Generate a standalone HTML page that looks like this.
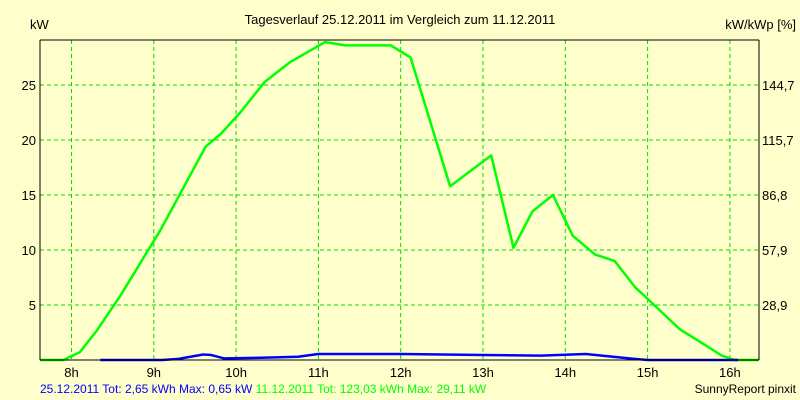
<!DOCTYPE html>
<html><head><meta charset="utf-8"><style>
html,body{margin:0;padding:0;background:#ffffcc;}
svg{display:block;font-family:"Liberation Sans",sans-serif;}
</style></head><body>
<svg id="chart" width="800" height="400" viewBox="0 0 800 400">
<rect x="0" y="0" width="800" height="400" fill="#ffffcc"/>
<text x="400" y="24" font-size="13" text-anchor="middle" fill="#000">Tagesverlauf 25.12.2011 im Vergleich zum 11.12.2011</text>
<text x="30" y="29" font-size="13" fill="#000">kW</text>
<text x="796" y="29" font-size="13" text-anchor="end" fill="#000">kW/kWp [%]</text>
<g id="grid"></g>
<g id="series"></g>
<line x1="40" y1="40" x2="40" y2="360" stroke="#000"/>
<line x1="40" y1="40" x2="759" y2="40" stroke="#000"/>
<line x1="759" y1="40" x2="759" y2="360" stroke="#000"/>
<line x1="40" y1="360" x2="759" y2="360" stroke="#000"/>
<text y="393" font-size="12"><tspan x="40" fill="#0000ff">25.12.2011 Tot: 2,65 kWh Max: 0,65 kW</tspan><tspan fill="#00ff00"> 11.12.2011 Tot: 123,03 kWh Max: 29,11 kW</tspan></text>
<text x="796" y="393" font-size="12" text-anchor="end" fill="#000">SunnyReport pinxit</text>
</svg>
<script>
const hourTicks=[8,9,10,11,12,13,14,15,16];
const yTicks=[5,10,15,20,25];
const yRightLabels=["28,9","57,9","86,8","115,7","144,7"];
const greenHours=[7.62,7.9,8.1,8.3,8.59,9.08,9.63,9.82,10.05,10.35,10.66,11.08,11.33,11.88,12.12,12.6,13.1,13.37,13.6,13.85,14.09,14.36,14.6,14.85,15.08,15.39,15.69,15.9,16.06,16.35];
const greenKW=[0,0,0.7,2.6,5.8,11.8,19.4,20.6,22.5,25.3,27.1,28.9,28.6,28.6,27.5,15.8,18.6,10.2,13.5,15,11.3,9.6,9,6.6,5,2.8,1.4,0.4,0,0];
const blueHours=[8.35,9.1,9.3,9.6,9.7,9.85,10.3,10.75,11.0,12.0,13.0,13.7,14.25,14.7,15.0,16.1];
const blueKW=[0,0,0.1,0.5,0.45,0.15,0.2,0.3,0.55,0.55,0.45,0.4,0.55,0.2,0,0];
const ns="http://www.w3.org/2000/svg";
const X=h=>71.5+(h-8)*82.3;
const Y=v=>360-v*11;
const grid=document.getElementById('grid'), ser=document.getElementById('series'), svg=document.getElementById('chart');
function mk(t,a,p){const e=document.createElementNS(ns,t);for(const k in a)e.setAttribute(k,a[k]);p.appendChild(e);return e;}
hourTicks.forEach(h=>{
 const l=mk('line',{x1:X(h),x2:X(h),y1:40,y2:360,stroke:'#00dd00','stroke-dasharray':'4,3'},grid);
 
 
 const t=mk('text',{x:X(h),y:377,'font-size':13,'text-anchor':'middle',fill:'#000'},svg);
 t.textContent=h+'h';
 
 
});
yTicks.forEach((v,i)=>{
 const l=mk('line',{x1:40,x2:759,y1:Y(v),y2:Y(v),stroke:'#00dd00','stroke-dasharray':'4,3'},grid);
 
 
 const t=mk('text',{x:36,y:Y(v)+5,'font-size':13,'text-anchor':'end',fill:'#000'},svg);
 t.textContent=v;
 
 
 const r=mk('text',{x:762,y:Y(v)+5,'font-size':13,fill:'#000'},svg);
 r.textContent=yRightLabels[i];
 
 
});
const g=mk('polyline',{points:greenHours.map((h,i)=>X(h)+','+Y(greenKW[i])).join(' '),fill:'none',stroke:'#00ff00','stroke-width':2.5,'stroke-linejoin':'round'},ser);


const b=mk('polyline',{points:blueHours.map((h,i)=>X(h)+','+Y(blueKW[i])).join(' '),fill:'none',stroke:'#0000ff','stroke-width':2.5,'stroke-linejoin':'round'},ser);


</script>
</body></html>
